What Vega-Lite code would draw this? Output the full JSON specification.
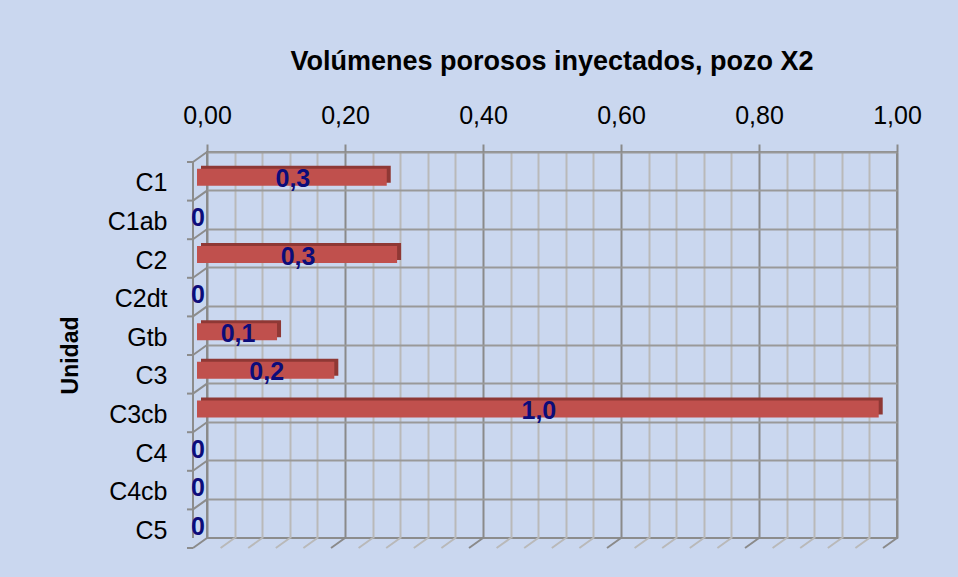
{
  "$schema": "https://vega.github.io/schema/vega-lite/v6.json",
  "width": 690,
  "height": 386,
  "autosize": {"type": "none"},
  "padding": {"left": 207, "top": 152, "right": 61, "bottom": 39},
  "background": "#cad7ef",
  "config": {
    "view": {"stroke": "#8c8c8c", "strokeWidth": 2},
    "font": "Liberation Sans"
  },
  "title": {
    "text": "Volúmenes porosos inyectados, pozo X2",
    "font": "Liberation Sans",
    "fontSize": 27,
    "fontWeight": "bold",
    "color": "#000000",
    "anchor": "middle",
    "offset": 27
  },
  "datasets": {
    "units": [
      {"unidad": "C1", "v": 0.275},
      {"unidad": "C1ab", "v": 0},
      {"unidad": "C2", "v": 0.29},
      {"unidad": "C2dt", "v": 0},
      {"unidad": "Gtb", "v": 0.116},
      {"unidad": "C3", "v": 0.199},
      {"unidad": "C3cb", "v": 0.988},
      {"unidad": "C4", "v": 0},
      {"unidad": "C4cb", "v": 0},
      {"unidad": "C5", "v": 0}
    ],
    "grid": [
      {"g": 0}, {"g": 0.04}, {"g": 0.08}, {"g": 0.12}, {"g": 0.16}, {"g": 0.2},
      {"g": 0.24}, {"g": 0.28}, {"g": 0.32}, {"g": 0.36}, {"g": 0.4},
      {"g": 0.44}, {"g": 0.48}, {"g": 0.52}, {"g": 0.56}, {"g": 0.6},
      {"g": 0.64}, {"g": 0.68}, {"g": 0.72}, {"g": 0.76}, {"g": 0.8},
      {"g": 0.84}, {"g": 0.88}, {"g": 0.92}, {"g": 0.96}, {"g": 1}
    ]
  },
  "data": {"name": "units"},
  "layer": [
    {
      "mark": {"type": "bar", "color": "#8f3835", "height": {"band": 0.44}, "xOffset": -6, "x2Offset": -10, "yOffset": 3},
      "encoding": {
        "y": {
          "field": "unidad",
          "type": "nominal",
          "scale": {"domain": ["C1", "C1ab", "C2", "C2dt", "Gtb", "C3", "C3cb", "C4", "C4cb", "C5"], "paddingInner": 0, "paddingOuter": 0},
          "axis": {
            "bandPosition": 0,
            "grid": true,
            "gridColor": "#999999",
            "gridWidth": 2,
            "ticks": false,
            "domain": false,
            "labelFont": "Liberation Sans",
            "labelFontSize": 25,
            "labelColor": "#000000",
            "labelPadding": 40,
            "labelOffset": 12,
            "title": "Unidad",
            "titleFont": "Liberation Sans",
            "titleFontSize": 23,
            "titleFontWeight": "bold",
            "titleColor": "#000000",
            "titleBaseline": "alphabetic",
            "titleX": -130,
            "titleY": 203
          }
        },
        "x": {
          "field": "v",
          "type": "quantitative",
          "scale": {"domain": [0, 1], "nice": false, "zero": true},
          "axis": {
            "orient": "top",
            "values": [0, 0.04, 0.08, 0.12, 0.16, 0.2, 0.24, 0.28, 0.32, 0.36, 0.4, 0.44, 0.48, 0.52, 0.56, 0.6, 0.64, 0.68, 0.72, 0.76, 0.8, 0.84, 0.88, 0.92, 0.96, 1],
            "tickCount": 30,
            "grid": true,
            "gridColor": {"condition": {"test": "indexof([0, 0.2, 0.4, 0.6, 0.8, 1], datum.value) >= 0", "value": "#8a8a8a"}, "value": "#b9b9b9"},
            "gridWidth": 2,
            "tickColor": {"condition": {"test": "indexof([0, 0.2, 0.4, 0.6, 0.8, 1], datum.value) >= 0", "value": "#8a8a8a"}, "value": "transparent"},
            "tickSize": 8,
            "tickWidth": 2,
            "domain": false,
            "labelExpr": "indexof([0, 0.2, 0.4, 0.6, 0.8, 1], datum.value) >= 0 ? replace(format(datum.value, '.2f'), '.', ',') : ''",
            "labelFont": "Liberation Sans",
            "labelFontSize": 25,
            "labelColor": "#000000",
            "labelPadding": 16,
            "labelOverlap": false,
            "labelFlush": false,
            "labelBound": false,
            "title": null
          }
        }
      }
    },
    {
      "mark": {"type": "bar", "color": "#c0504d", "height": {"band": 0.44}, "xOffset": -10, "x2Offset": -10, "yOffset": 6},
      "encoding": {
        "y": {"field": "unidad", "type": "nominal"},
        "x": {"field": "v", "type": "quantitative"}
      }
    },
    {
      "mark": {"type": "rule", "color": "#8c8c8c", "strokeWidth": 2, "x2Offset": -14, "y2Offset": 10},
      "encoding": {
        "x": {"datum": 0, "type": "quantitative"},
        "x2": {"datum": 0},
        "y": {"field": "unidad", "type": "nominal", "bandPosition": 0},
        "y2": {"field": "unidad", "bandPosition": 0}
      }
    },
    {
      "mark": {"type": "rule", "color": "#8c8c8c", "strokeWidth": 2, "xOffset": -20, "x2Offset": -14, "yOffset": 10},
      "encoding": {
        "x": {"datum": 0, "type": "quantitative"},
        "x2": {"datum": 0},
        "y": {"field": "unidad", "type": "nominal", "bandPosition": 0}
      }
    },
    {
      "transform": [{"filter": "datum.unidad == 'C5'"}],
      "mark": {"type": "rule", "color": "#8c8c8c", "strokeWidth": 2, "xOffset": -20, "x2Offset": -14, "yOffset": 10},
      "encoding": {
        "x": {"datum": 0, "type": "quantitative"},
        "x2": {"datum": 0},
        "y": {"field": "unidad", "type": "nominal", "bandPosition": 1}
      }
    },
    {
      "mark": {"type": "rule", "color": "#8c8c8c", "strokeWidth": 2, "xOffset": -14, "yOffset": 10, "y2Offset": 10},
      "encoding": {
        "x": {"datum": 0, "type": "quantitative"}
      }
    },
    {
      "data": {"name": "grid"},
      "mark": {"type": "rule", "strokeWidth": 2, "x2Offset": -14, "y2Offset": 10},
      "encoding": {
        "x": {"field": "g", "type": "quantitative"},
        "x2": {"field": "g"},
        "y": {"datum": "C5", "type": "nominal", "bandPosition": 1},
        "y2": {"datum": "C5", "bandPosition": 1},
        "color": {"condition": {"test": "indexof([0, 0.2, 0.4, 0.6, 0.8, 1], datum.g) >= 0", "value": "#8a8a8a"}, "value": "#b9b9b9"}
      }
    },
    {
      "transform": [
        {"calculate": "datum.v / 2", "as": "mid"},
        {"calculate": "datum.v == 0 ? '0' : replace(format(datum.v, '.1f'), '.', ',')", "as": "lab"}
      ],
      "mark": {"type": "text", "font": "Liberation Sans", "fontSize": 25, "fontWeight": "bold", "color": "#0c0c7a", "align": "center", "baseline": "middle", "xOffset": -9, "yOffset": 8},
      "encoding": {
        "x": {"field": "mid", "type": "quantitative"},
        "y": {"field": "unidad", "type": "nominal"},
        "text": {"field": "lab"}
      }
    }
  ]
}
